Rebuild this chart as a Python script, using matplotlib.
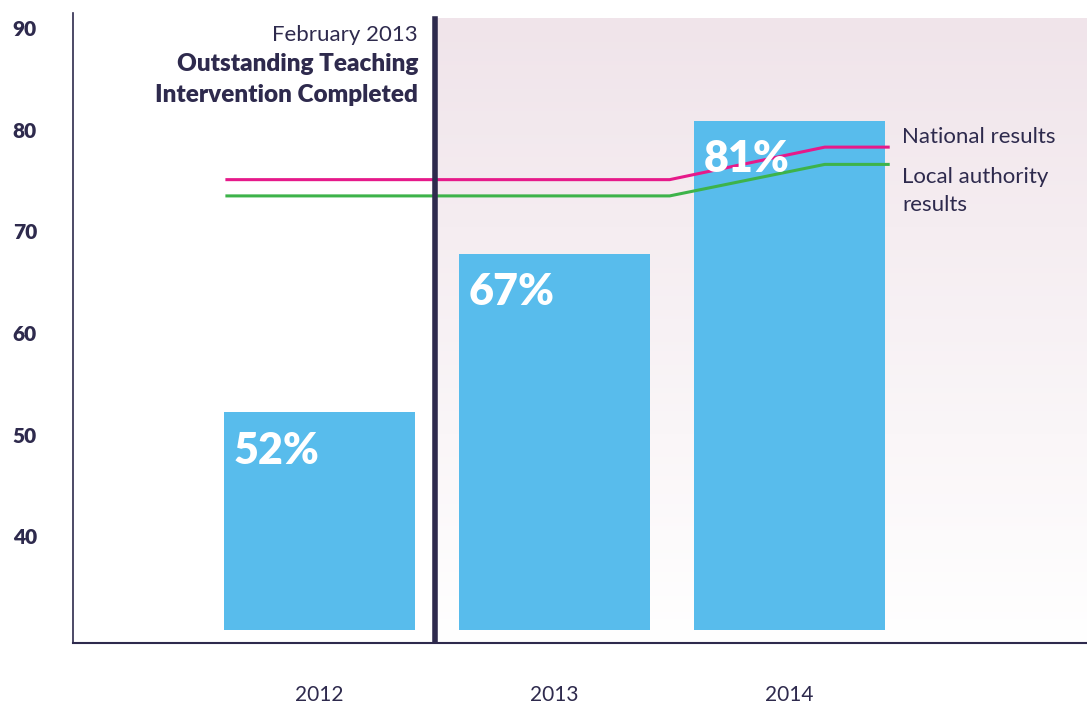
import matplotlib
matplotlib.use("Agg")
import matplotlib.pyplot as plt
import numpy as np

# data
years = ["2012", "2013", "2014"]
pass_rates = [52.2, 67.8, 80.9]
bar_labels = ["52%", "67%", "81%"]
line_x = [-0.394, 1.49, 2.15, 2.42]
national = [75.1, 75.1, 78.3, 78.3]
local_authority = [73.5, 73.5, 76.6, 76.6]
y_ticks = [40, 50, 60, 70, 80, 90]

navy = "#2e2a4d"
bar_blue = "#58bcec"
pink = "#e6198a"
green = "#3db34a"
font = "Lato"

plt.rcParams["font.family"] = [font, "DejaVu Sans"]

fig = plt.figure(figsize=(10.87, 7.07), dpi=100)
ax = fig.add_axes([73 / 1087, 1 - 643 / 707, 1 - 73 / 1087, 630 / 707])

x = np.arange(len(years))
ax.set_xlim(-1.049, 3.266)
ax.set_ylim(29.5, 91.5)

# pinkish gradient after the intervention line
grad = np.linspace(0, 1, 256).reshape(-1, 1)
top = np.array([240, 228, 234]) / 255
bot = np.array([255, 255, 255]) / 255
img = top * (1 - grad[..., None]) + bot * grad[..., None]
img = img.reshape(256, 1, 3)
ax.imshow(img, extent=[0.49, 3.266, 29.5, 91.0], aspect="auto", zorder=0, origin="upper")

base = 30.8
ax.bar(x, [v - base for v in pass_rates], bottom=base, width=0.81, color=bar_blue, zorder=2)
for xi, v, lab in zip(x, pass_rates, bar_labels):
    ax.text(xi - 0.365, v - 1.8, lab, color="white", fontsize=31, fontweight="heavy",
            ha="left", va="top", zorder=5)

ax.plot(line_x, national, color=pink, lw=2.2, zorder=4)
ax.plot(line_x, local_authority, color=green, lw=2.2, zorder=4)

ax.axvline(0.49, ymin=0, ymax=(90.9 - 29.5) / 62, color=navy, lw=4, zorder=6)

ax.text(2.48, 79.3, "National results", color=navy, fontsize=16, ha="left", va="center")
ax.text(2.48, 76.3, "Local authority\nresults", color=navy, fontsize=16, ha="left", va="top",
        linespacing=1.5)

ax.text(0.419, 89.3, "February 2013", color=navy, fontsize=16,
        ha="right", va="center")
ax.text(0.419, 87.6, "Outstanding Teaching\nIntervention Completed", color=navy, fontsize=17.5,
        fontweight="heavy", ha="right", va="top", linespacing=1.5)

ax.set_yticks(y_ticks)
ax.set_yticklabels([str(t) for t in y_ticks], fontsize=15, fontweight="heavy", color=navy)
ax.tick_params(axis="y", length=0, pad=26)
ax.set_xticks(x)
ax.set_xticklabels(years, fontsize=15, color=navy)
ax.tick_params(axis="x", length=0, pad=30)

for s in ["top", "right"]:
    ax.spines[s].set_visible(False)
ax.spines["left"].set_color(navy)
ax.spines["bottom"].set_color(navy)
ax.spines["left"].set_linewidth(1.2)
ax.spines["bottom"].set_linewidth(1.5)

fig.savefig("out.png", dpi=100)
